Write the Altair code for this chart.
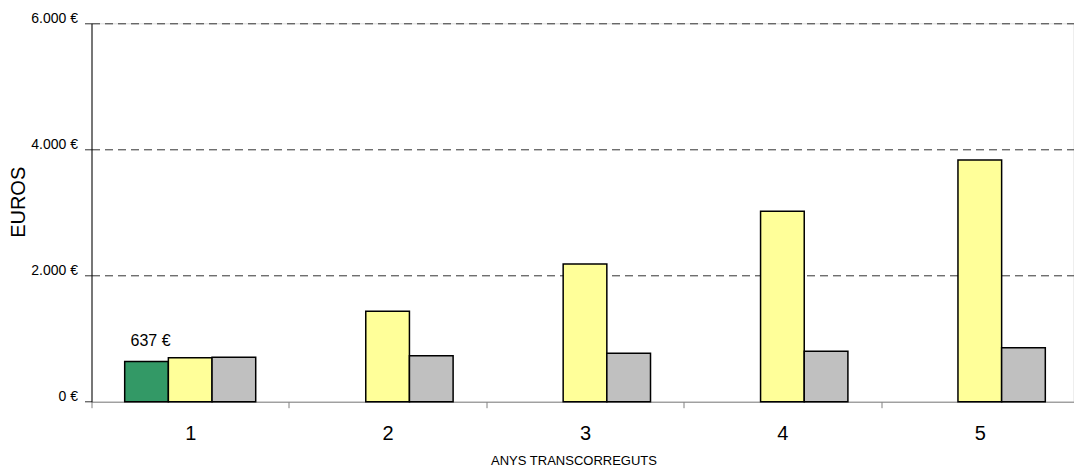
import altair as alt
import pandas as pd

# ---- data ----
years = ["1", "2", "3", "4", "5"]
series = ["Sèrie A", "Sèrie B", "Sèrie C"]
serie_a = [637, None, None, None, None]          # green (only year 1)
serie_b = [698, 1433, 2183, 3019, 3832]          # yellow
serie_c = [704, 729, 767, 799, 856]              # gray
colors = ["#339966", "#FFFF99", "#C0C0C0"]
label_year = "1"
label_value = 637
label_text = "637 €"
y_ticks = [0, 2000, 4000, 6000]

rows = []
for s_name, vals in zip(series, [serie_a, serie_b, serie_c]):
    for yr, v in zip(years, vals):
        if v is not None:
            rows.append({"any": yr, "serie": s_name, "valor": v})
df = pd.DataFrame(rows)
df_label = pd.DataFrame([{"any": label_year, "serie": series[0],
                          "valor": label_value, "txt": label_text}])

FONT = "Liberation Sans"

x_enc = alt.X(
    "any:N",
    scale=alt.Scale(domain=years, range=[0, 987], paddingInner=0, paddingOuter=0),
    axis=alt.Axis(
        title="ANYS TRANSCORREGUTS",
        labelAngle=0,
        tickBand="extent",
        domainColor="#808080",
        tickColor="#808080",
        tickSize=6,
        labelPadding=16,
        labelFontSize=20,
        labelFont=FONT,
        labelColor="black",
        titleFont=FONT,
        titleFontSize=13,
        titleFontWeight="normal",
        titleColor="black",
        titleX=482,
        titleY=59,
        titleAlign="center",
        titleBaseline="middle",
        grid=False,
    ),
)
xo_enc = alt.XOffset(
    "serie:N",
    scale=alt.Scale(domain=series, paddingInner=0, paddingOuter=0.76),
)
y_enc = alt.Y(
    "valor:Q",
    scale=alt.Scale(domain=[0, 6000], nice=False, zero=True),
    axis=alt.Axis(
        title="EUROS",
        values=y_ticks,
        labelExpr="replace(format(datum.value, ',.0f'), ',', '.') + ' €'",
        labelFont=FONT,
        labelFontSize=14,
        labelColor="black",
        labelOffset=-5,
        labelPadding=7,
        tickSize=7,
        tickColor="#333333",
        domainColor="black",
        grid=True,
        gridColor="#333333",
        gridDash=[8, 5],
        gridOpacity={"condition": {"test": "datum.value === 0", "value": 0}, "value": 1},
        titleFont=FONT,
        titleFontSize=20,
        titleFontWeight="normal",
        titleColor="black",
        titleAngle=270,
        titleX=-73,
        titleY=178.5,
        titleAlign="center",
        titleBaseline="middle",
    ),
)

bars = alt.Chart(df).mark_bar(stroke="black", strokeWidth=1.5).encode(
    x=x_enc,
    xOffset=xo_enc,
    y=y_enc,
    color=alt.Color("serie:N", scale=alt.Scale(domain=series, range=colors), legend=None),
)

labels = alt.Chart(df_label).mark_text(
    font=FONT, fontSize=16, color="black", align="center", baseline="alphabetic", dx=4, dy=-16
).encode(
    x=alt.X("any:N"),
    xOffset=alt.XOffset("serie:N"),
    y=alt.Y("valor:Q"),
    text="txt:N",
)

chart = alt.layer(bars, labels).properties(
    width=982,
    height=378.4,
    autosize=alt.AutoSizeParams(type="none"),
    padding={"left": 91.5, "top": 23.3, "right": 0, "bottom": 66.3},
).configure_view(stroke=None).configure(background="white")

chart.save("out.html", embed_options={"renderer": "svg", "actions": False})
